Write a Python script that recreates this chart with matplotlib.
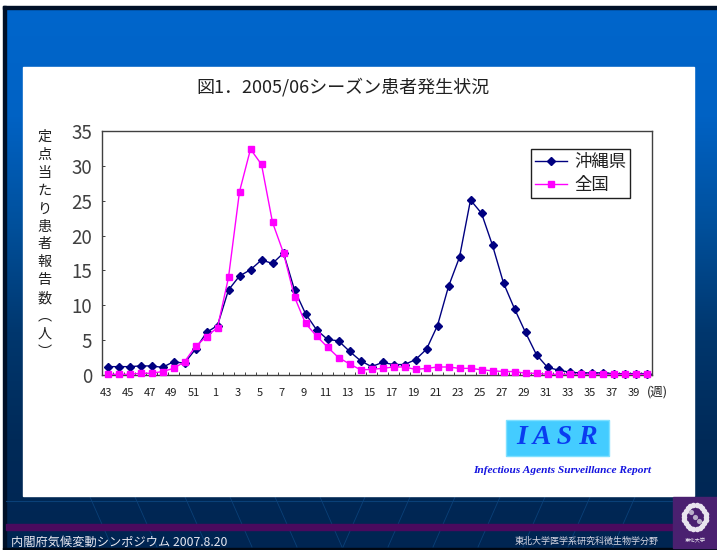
import numpy as np
import matplotlib
matplotlib.use("Agg")
from matplotlib import pyplot, colors
from matplotlib.patches import Rectangle
from matplotlib.transforms import ScaledTranslation

pyplot.rcParams['font.family'] = ['Noto Sans CJK JP', 'DejaVu Sans']

# weeks 43 of 2005 through week 40 of 2006
weeks = list(range(43, 53)) + list(range(1, 41))
okinawa = [1.2, 1.2, 1.2, 1.3, 1.3, 1.1, 1.9, 1.7, 3.7, 6.1, 7.1, 12.2, 14.2, 15.1, 16.5, 16.0, 17.5,
           12.2, 8.8, 6.5, 5.1, 4.9, 3.4, 2.05, 1.2, 1.8, 1.5, 1.5, 2.2, 3.7, 7.1, 12.7, 16.9, 25.1,
           23.2, 18.6, 13.2, 9.5, 6.1, 2.9, 1.1, 0.7, 0.4, 0.3, 0.3, 0.3, 0.2, 0.2, 0.2, 0.2]
national = [0.1, 0.1, 0.1, 0.25, 0.25, 0.5, 0.95, 1.9, 4.1, 5.5, 6.8, 14.0, 26.3, 32.4, 30.2, 21.9, 17.5,
            11.2, 7.4, 5.6, 4.0, 2.5, 1.6, 0.75, 0.8, 0.95, 1.15, 1.15, 0.8, 0.95, 1.15, 1.15, 0.95, 0.95,
            0.75, 0.6, 0.5, 0.5, 0.25, 0.25, 0.1, 0.1, 0.1, 0.1, 0.1, 0.1, 0.1, 0.1, 0.1, 0.1]
y_ticks = [0, 5, 10, 15, 20, 25, 30, 35]
ylabel_chars = ["定", "点", "当", "た", "り", "患", "者", "報", "告", "数", "︵", "人", "︶"]

W, H = 717, 550
NAVY, MAGENTA = "#000080", "#FF00FF"

fig = pyplot.figure(figsize=(W/100, H/100), dpi=100, facecolor="white")

# slide background, in pixel coordinates
bg = fig.add_axes([0, 0, 1, 1])
bg.axis("off")

cmap = colors.LinearSegmentedColormap.from_list("slide", ["#0066CC", "#0062C4", "#00509C", "#00376E", "#002A58", "#002552"])
gradient = np.linspace(0, 1, 256).reshape(-1, 1)
bg.imshow(gradient, cmap=cmap, extent=[6, W, 548, 8], aspect="auto", zorder=0)
bg.set_xlim(0, W)
bg.set_ylim(H, 0)

bg.add_patch(Rectangle((3, 6), W-3, 2.5, color="#001028", zorder=1))
bg.add_patch(Rectangle((3, 6), 3, 543, color="#001028", zorder=1))
bg.add_patch(Rectangle((3, 547.5), W-3, 2.5, color="#000814", zorder=1))

# footer band and the thin slanted lines behind it
bg.plot([6, 673], [501, 501], color="#0A4078", lw=0.8, zorder=1)
for x0 in [90, 135, 185, 230, 275, 320, 365, 410, 455, 500, 545, 590, 635]:
    slant = 22 if x0 < 340 else -22
    bg.plot([x0, x0+slant], [497, 547], color="#0A4078", lw=0.6, zorder=1)
bg.add_patch(Rectangle((6, 524), 667, 6, color="#4A0A5E", zorder=2))

bg.add_patch(Rectangle((23, 67), 671, 429, color="white", zorder=3))

bg.text(11, 542.5, "内閣府気候変動シンポジウム 2007.8.20", color="#E8E8F0", fontsize=8.8, va="center", zorder=4)
bg.text(515, 541.5, "東北大学医学系研究科微生物学分野", color="#D8D8E4", fontsize=6.5, style="italic", va="center", zorder=4)

# university emblem in the corner
bg.add_patch(Rectangle((673, 497), 44, 51, color="#4A2070", zorder=4))
angles = np.linspace(0, 2*np.pi, 22, endpoint=False)
bg.scatter(695 + 11*np.cos(angles), 517 + 12*np.sin(angles), s=16, color="#E8E4EE", lw=0, zorder=5)
bg.scatter([695, 691, 699], [517, 512, 521], s=14, color="#B8AEC8", lw=0, zorder=5)
bg.text(695, 541, "東北大学", color="#E8E4EE", fontsize=3.8, ha="center", va="center", zorder=5)

# IASR badge
bg.add_patch(Rectangle((506, 420), 103, 36, facecolor="#44CCFF", edgecolor="#7FE0FF", lw=1, zorder=4))
bg.text(557.5, 438, "I A S R", color="#0A3CF0", fontsize=20, family="Liberation Serif",
        weight="bold", style="italic", ha="center", va="center", zorder=5)
bg.text(562.5, 470.5, "Infectious Agents Surveillance Report", color="#1414E0", fontsize=8.2,
        family="Liberation Serif", weight="bold", style="italic", ha="center", va="center", zorder=5)

bg.text(342.5, 87, "図1．2005/06シーズン患者発生状況", color="#202020", fontsize=13,
        ha="center", va="center", zorder=5)

for i, char in enumerate(ylabel_chars):
    bg.text(44.5, 137 + i*17.9, char, color="#202020", fontsize=10.2, ha="center", va="center", zorder=5)
bg.text(657, 392, "(週)", color="#202020", fontsize=9, ha="center", va="center", zorder=5)

# chart
ax = fig.add_axes([102/W, 1-375/H, 550/W, 244/H], zorder=2)
ax.patch.set_alpha(0)
xvalues = np.arange(len(weeks))
ax.plot(xvalues, okinawa, color=NAVY, lw=1, marker="D", ms=4.2, label="沖縄県", zorder=2, clip_on=False)
ax.plot(xvalues, national, color=MAGENTA, lw=1, marker="s", ms=5, label="全国", zorder=3, clip_on=False)

ax.set_xlim(-0.5, len(weeks)-0.5)
ax.set_ylim(0, 35)
ax.set_yticks(y_ticks)
ax.set_xticks(xvalues[:-1:2], [str(w) for w in weeks[:-1:2]])
ax.set_xticks(xvalues-0.5, minor=True)
ax.tick_params(axis="x", which="major", length=0, pad=9, labelsize=8, labelcolor="#202020")
ax.tick_params(axis="x", which="minor", length=2, direction="in", width=0.7, color="#404040")
ax.tick_params(axis="y", length=2, direction="in", width=0.7, color="#404040", pad=7, labelsize=13.5, labelcolor="#404040")
shift = ScaledTranslation(-2/100, 0, fig.dpi_scale_trans)
for tick in ax.get_xticklabels():
    tick.set_transform(tick.get_transform() + shift)
for spine in ax.spines.values():
    spine.set_color("#404040")
    spine.set_linewidth(1)

legend = ax.legend(loc="upper left", bbox_to_anchor=((531-102)/550, (375-149)/244), borderaxespad=0,
                   fontsize=12.5, frameon=True, fancybox=False, framealpha=1, edgecolor="#202020",
                   labelspacing=0.3, handlelength=1.85, handletextpad=0.4, borderpad=0.22, markerscale=0.9)
legend.get_frame().set_linewidth(1)
for text in legend.get_texts():
    text.set_color("#202020")

pyplot.savefig("out.png", dpi=100)
